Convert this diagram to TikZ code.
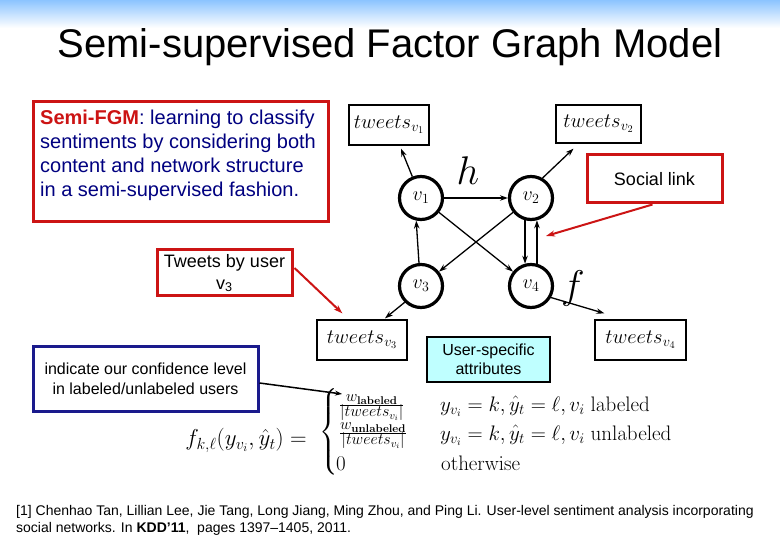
\RequirePackage{fix-cm}
\documentclass[tikz,border=0pt]{standalone}
\usepackage[no-math]{fontspec}
\setmainfont{Liberation Sans}
\usepackage{amsmath}
\usetikzlibrary{arrows.meta,calc}
\definecolor{navy}{RGB}{0,0,128}
\definecolor{slred}{RGB}{204,20,20}
\definecolor{bandblue}{RGB}{140,196,255}
\definecolor{cyanfill}{RGB}{191,255,255}
\definecolor{boxblue}{RGB}{26,26,140}
\begin{document}
\begin{tikzpicture}[x=1pt,y=-1pt,
  redbox/.style={draw=slred, line width=3pt, rectangle, inner sep=0pt},
  tbox/.style={draw=black, line width=1.3pt, rectangle, inner sep=0pt, font=\fontsize{20.5}{24}\selectfont},
  vnode/.style={draw=black, line width=3.2pt, circle, minimum size=43pt, inner sep=0pt, font=\fontsize{20}{24}\selectfont},
  edge/.style={draw=black, line width=1.3pt, -{Stealth[length=8pt,width=5.5pt]}},
  redarrow/.style={draw=slred, line width=2pt, -{Stealth[length=9pt,width=6pt]}},
  bigmath/.style={font=\fontsize{40}{44}\selectfont},
  fracnode/.style={inner sep=0pt, font=\fontsize{16}{12.5}\selectfont},
  mathline/.style={inner sep=0pt, font=\fontsize{21}{24}\selectfont}
]
\useasboundingbox (0,0) rectangle (780,540);
\fill[white] (0,0) rectangle (780,540);
\shade[top color=bandblue, bottom color=white] (0,0) rectangle (780,28);

\node (title) at (390,47) {\fontsize{40}{48}\selectfont Semi-supervised Factor Graph Model};

% description box
\node[redbox, minimum width=295pt, minimum height=120pt] (desc) at (180.5,162) {};
\node[anchor=north west, align=left, inner sep=0pt, text=navy, font=\fontsize{20}{24}\selectfont] (desctext) at (40,110)
  {\textcolor{slred}{\textbf{Semi-FGM}}: learning to classify\\sentiments by considering both\\content and network structure\\in a semi-supervised fashion.};

% tweets boxes
\node[tbox, minimum width=80pt, minimum height=40pt] (tv1) at (389,125) {$tweets_{v_1}$};
\node[tbox, minimum width=85pt, minimum height=38pt] (tv2) at (598.5,124) {$tweets_{v_2}$};
\node[tbox, minimum width=90pt, minimum height=40pt] (tv3) at (362,340) {$tweets_{v_3}$};
\node[tbox, minimum width=91pt, minimum height=40pt] (tv4) at (640.5,340) {$tweets_{v_4}$};

% variable nodes
\node[vnode] (v1) at (421,198) {$v_1$};
\node[vnode] (v2) at (531,198) {$v_2$};
\node[vnode] (v3) at (421,286) {$v_3$};
\node[vnode] (v4) at (531,286) {$v_4$};
\node[bigmath] (hlab) at (468,171) {$h$};
\node[bigmath] (flab) at (573,289) {$f$};

\draw[edge] (v1) -- (v2);
\draw[edge] (v1) -- (v4);
\draw[edge] (v2) -- (v3);
\draw[edge] (v3.95) -- (v1.258);
\draw[edge] (v2.255) -- (v4.105);
\draw[edge] (v4.75) -- (v2.285);
\draw[edge] (v1.112) -- ($(tv1.south)+(12,3)$);
\draw[edge] (v2.60) -- ($(tv2.south)+(-25,5)$);
\draw[edge] (v3.225) -- ($(tv3.north)+(23,-1)$);
\draw[edge] (v4.-30) -- ($(tv4.north west)+(10,-6)$);

% social link
\node[redbox, minimum width=135pt, minimum height=48pt, font=\fontsize{18}{22}\selectfont] (social) at (654.5,179) {Social link};
\coordinate (socialtip) at (546,236);
\draw[redarrow] ($(social.south)+(-2,0)$) -- (socialtip);

% tweets by user
\node[redbox, minimum width=135pt, minimum height=46pt, align=center, font=\fontsize{18}{22}\selectfont] (tbu) at (224.5,273) {Tweets by user\\v\textsubscript{3}};
\draw[redarrow] ($(tbu.east)+(1,-5)$) -- ($(tv3.north west)+(26,-6)$);

% confidence box
\node[draw=boxblue, line width=3pt, rectangle, minimum width=225pt, minimum height=64pt, align=center, font=\fontsize{16}{20}\selectfont] (conf) at (145.5,379) {indicate our confidence level\\in labeled/unlabeled users};

% user-specific attributes
\node[draw=black, fill=cyanfill, line width=2pt, rectangle, minimum width=123pt, minimum height=45pt, align=center, font=\fontsize{16}{19}\selectfont] (usa) at (488.5,359.5) {User-specific\\attributes};

% formula
\node[anchor=base east, inner sep=0pt, font=\fontsize{23}{26}\selectfont] (flhs) at (307,446) {$f_{k,\ell}(y_{v_i},\hat{y}_t) =$};
\node[inner sep=0pt, font=\fontsize{22}{24}\selectfont] (brace) at (329,433) {$\left\{\rule{0pt}{40pt}\rule[-40pt]{0pt}{40pt}\right.$};
\node[fracnode, anchor=west] (frac1) at (340,407) {\renewcommand{\arraystretch}{1}\begin{tabular}{@{}c@{}}$w_{\mathbf{labeled}}$\\[-1pt]\hline\rule{0pt}{11pt}$|tweets_{v_i}|$\end{tabular}};
\node[fracnode, anchor=west] (frac2) at (340,435) {\renewcommand{\arraystretch}{1}\begin{tabular}{@{}c@{}}$w_{\mathbf{unlabeled}}$\\[-1pt]\hline\rule{0pt}{11pt}$|tweets_{v_i}|$\end{tabular}};
\node[anchor=base west, mathline] (zero) at (336,470) {$0$};
\node[anchor=base west, mathline] (c1) at (440,411) {$y_{v_i}=k,\hat{y}_t=\ell,v_i\ \mathrm{labeled}$};
\node[anchor=base west, mathline] (c2) at (440,440) {$y_{v_i}=k,\hat{y}_t=\ell,v_i\ \mathrm{unlabeled}$};
\node[anchor=base west, mathline] (c3) at (441,470) {$\mathrm{otherwise}$};

\coordinate (conftip) at (342,394);
\draw[draw=black, line width=1.5pt, -{Stealth[length=7pt,width=5pt]}] ($(conf.east)+(0,4)$) -- (conftip);

% reference
\node[anchor=base west, inner sep=0pt, font=\fontsize{14}{17}\selectfont] (ref1) at (16,515) {[1] Chenhao Tan, Lillian Lee, Jie Tang, Long Jiang, Ming Zhou, and Ping Li. User-level sentiment analysis incorporating};
\node[anchor=base west, inner sep=0pt, font=\fontsize{14}{17}\selectfont] (ref2) at (16,532) {social networks. In \textbf{KDD’11},\ \ pages 1397–1405, 2011.};
\end{tikzpicture}
\end{document}
